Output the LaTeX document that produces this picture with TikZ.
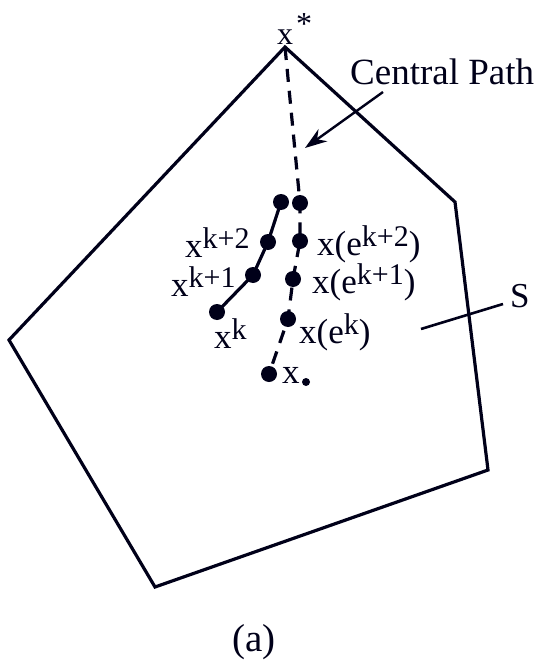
\documentclass[tikz,border=0pt]{standalone}
\usepackage{fontspec}
\setmainfont{Liberation Serif}
\usetikzlibrary{arrows.meta}
\newcommand{\sps}[1]{\raisebox{9pt}{\fontsize{30}{30}\selectfont #1}}
\begin{document}
\begin{tikzpicture}[x=1pt,y=-1pt,
  edge/.style={line width=3.2pt, line join=miter},
  dotnode/.style={circle, fill=black!90!blue, minimum size=16pt, inner sep=0pt},
  lbl/.style={font=\fontsize{35}{35}\selectfont, inner sep=0pt, anchor=base west},
  dpath/.style={line width=3.2pt, dash pattern=on 13pt off 9pt},
  color=black!90!blue]
\useasboundingbox (0,0) rectangle (542,666);
% polygon S
\coordinate (v1) at (285,47);
\coordinate (v2) at (455,202);
\coordinate (v3) at (488,470);
\coordinate (v4) at (155,587);
\coordinate (v5) at (9,340);
\draw[edge] (v1) -- (v2) -- (v3) -- (v4) -- (v5) -- cycle;
% central path dots
\node[dotnode] (c1) at (300,203) {};
\node[dotnode] (c2) at (300,241) {};
\node[dotnode] (c3) at (293,279) {};
\node[dotnode] (c4) at (288,319) {};
\node[dotnode] (c0) at (269,374) {};
\draw[dpath] (v1) -- (c1.center) -- (c2.center) -- (c3.center) -- (c4.center) -- (c0.center);
% iterates
\node[dotnode] (p3) at (281,202) {};
\node[dotnode] (p2) at (268,242) {};
\node[dotnode] (p1) at (253,275) {};
\node[dotnode] (p0) at (217,312) {};
\draw[edge] (p3.center) -- (p2.center) -- (p1.center) -- (p0.center);
% labels
\node[lbl, font=\fontsize{32}{32}\selectfont] (xs) at (277,45) {x\hspace{3pt}\raisebox{10pt}{*}};
\node[lbl, font=\fontsize{37}{37}\selectfont] (cp) at (350,85) {Central Path};
\coordinate (cpa) at (383,92);
\coordinate (cpb) at (305,148);
\draw[line width=2.4pt, -{Stealth[length=22pt,width=15pt]}] (cpa) -- (cpb);
\node[lbl] (l2) at (185,257) {x\sps{k+2}};
\node[lbl] (l1) at (171,296) {x\sps{k+1}};
\node[lbl] (l0) at (214,348) {x\sps{k}};
\node[lbl] (r2) at (317,255) {x(e\sps{k+2})};
\node[lbl] (r1) at (312,293) {x(e\sps{k+1})};
\node[lbl] (r0) at (299,343) {x(e\sps{k})};
\node[lbl] (xz) at (282,383) {x};
\node[circle, fill, minimum size=8pt, inner sep=0pt] (xzd) at (306,382) {};
\coordinate (sa) at (421,329);
\coordinate (sb) at (503,304);
\draw[line width=2.6pt] (sa) -- (sb);
\node[lbl] (S) at (510,307) {S};
\node[lbl, font=\fontsize{39}{39}\selectfont] (a) at (232,651) {(a)};
\end{tikzpicture}
\end{document}
